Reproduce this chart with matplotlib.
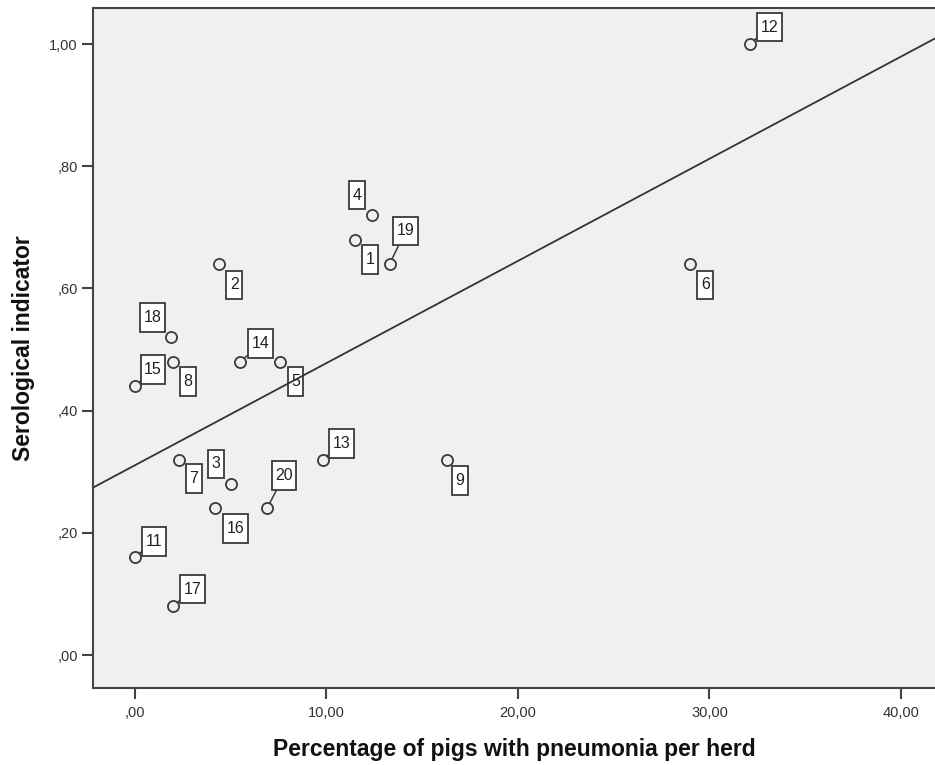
import numpy as np
import matplotlib
matplotlib.use("Agg")
import matplotlib.pyplot as plt
from matplotlib.path import Path
from matplotlib.ticker import FuncFormatter

# Herd-level data: % pigs with pneumonia vs serological indicator
herd_ids = [1, 2, 3, 4, 5, 6, 7, 8, 9, 11, 12, 13, 14, 15, 16, 17, 18, 19, 20]
pneumonia_pct = [11.5, 4.4, 5.0, 12.4, 7.6, 29.0, 2.3, 2.0, 16.3, 0.0,
                 32.1, 9.8, 5.5, 0.0, 4.2, 2.0, 1.9, 13.3, 6.9]
sero_indicator = [0.68, 0.64, 0.28, 0.72, 0.48, 0.64, 0.32, 0.48, 0.32, 0.16,
                  1.00, 0.32, 0.48, 0.44, 0.24, 0.08, 0.52, 0.64, 0.24]

# label box placement (offset in pixels) and whether a leader line is drawn
label_offsets = {1: (15, -20), 2: (15, -21), 3: (-15, 20), 4: (-15, 20),
                 5: (15, -20), 6: (15, -21), 7: (15, -19), 8: (15, -20),
                 9: (13, -21), 11: (19, 16), 12: (20, 17), 13: (19, 16),
                 14: (20, 18), 15: (18, 17), 16: (20, -20), 17: (19, 17),
                 18: (-19, 20), 19: (16, 33), 20: (17, 33)}
leader_lines = {11, 12, 13, 14, 15, 17, 19, 20}

x_ticks = [0, 10, 20, 30, 40]
y_ticks = [0.0, 0.2, 0.4, 0.6, 0.8, 1.0]

plt.rcParams['font.family'] = ['Liberation Sans', 'DejaVu Sans']


def tall_box(x0, y0, width, height, mutation_size):
    # square label box with more vertical than horizontal padding
    px = 0.22 * mutation_size
    py = 0.43 * mutation_size
    x0, y0 = x0 - px, y0 - py
    x1, y1 = x0 + width + 2 * px, y0 + height + 2 * py
    return Path([(x0, y0), (x1, y0), (x1, y1), (x0, y1), (x0, y0)], closed=True)


W, H = 935, 765
fig = plt.figure(figsize=(W / 100, H / 100), dpi=100)
ax = fig.add_axes([93 / W, (H - 688) / H, (W - 93) / W, (688 - 8) / H])
ax.set_facecolor('#f0f0f0')

ax.set_xlim(-2.19, 41.78)
ax.set_ylim(-0.054, 1.059)

# fit line
slope, intercept = np.polyfit(pneumonia_pct, sero_indicator, 1)
xs = np.array(ax.get_xlim())
ax.plot(xs, intercept + slope * xs, color='#333333', lw=1.3, zorder=5)

ax.plot(pneumonia_pct, sero_indicator, 'o', ms=8, mfc='none', mec='#3a3a3a',
        mew=1.3, zorder=4, clip_on=False)

for hid, x, y in zip(herd_ids, pneumonia_pct, sero_indicator):
    dx, dy = label_offsets[hid]
    arrow = None
    if hid in leader_lines:
        arrow = dict(arrowstyle='-', color='#3a3a3a', lw=1.1,
                     shrinkA=0, shrinkB=4)
    ax.annotate(str(hid), (x, y), xytext=(dx, dy), textcoords='offset pixels',
                ha='center', va='center', fontsize=11.5, color='#222222',
                bbox=dict(boxstyle=tall_box, fc='white',
                          ec='#3a3a3a', lw=1.3),
                arrowprops=arrow, zorder=3)


def comma_fmt(v, pos=None):
    s = f"{v:.2f}".replace('.', ',')
    if s.startswith('0,'):
        s = s[1:]
    return s


ax.set_xticks(x_ticks)
ax.set_yticks(y_ticks)
ax.xaxis.set_major_formatter(FuncFormatter(comma_fmt))
ax.yaxis.set_major_formatter(FuncFormatter(comma_fmt))
ax.tick_params(length=8, width=1.5, color='#444444', labelsize=10.5,
               labelcolor='#333333')
ax.tick_params(axis='x', pad=5)
ax.tick_params(axis='y', pad=3)

for side in ['left', 'bottom', 'top']:
    ax.spines[side].set_color('#444444')
    ax.spines[side].set_linewidth(1.5)
ax.spines['right'].set_visible(False)

lab_font = dict(fontweight='bold', fontsize=16.5, color='#111111')
ax.set_xlabel('Percentage of pigs with pneumonia per herd', labelpad=13, **lab_font)
ax.set_ylabel('Serological indicator', labelpad=10, **lab_font)

fig.savefig('out.png', dpi=100, facecolor='white')
